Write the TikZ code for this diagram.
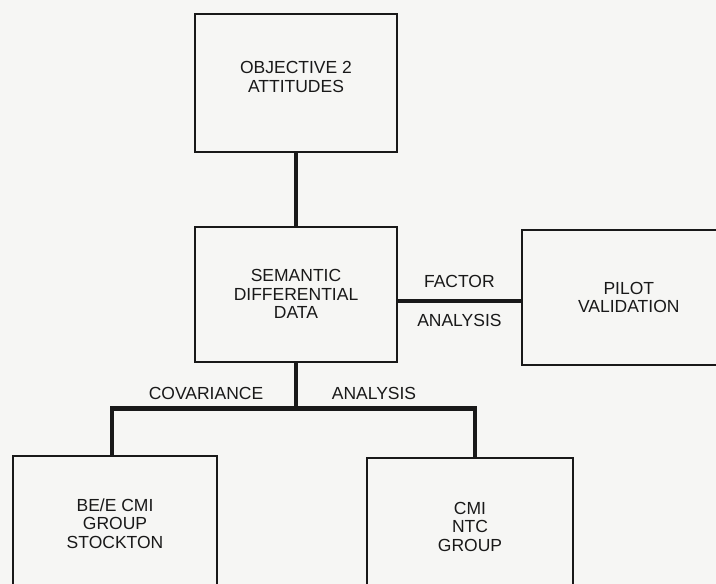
\documentclass[tikz,border=0pt]{standalone}
\usepackage{fontspec}
\setmainfont{Liberation Sans}
\usetikzlibrary{positioning}
\definecolor{paper}{RGB}{246,246,244}
\definecolor{ink}{RGB}{25,25,25}

\begin{document}
\begin{tikzpicture}[x=1pt,y=1pt,
    box/.style={draw=ink,line width=1.8pt,fill=paper,text=ink,minimum width=202pt,minimum height=136pt,align=center,inner sep=0pt,font=\fontsize{17.5}{18.5}\selectfont},
    link/.style={draw=ink,line width=4.5pt},
    lbl/.style={text=ink,inner sep=0pt,font=\fontsize{17.5}{18.5}\selectfont}]
  \fill[paper] (0,0) rectangle (716,-584);
  \useasboundingbox (0,0) rectangle (716,-584);
  \clip (0,0) rectangle (716,-584);
  % boxes
  \node[box,minimum height=138pt,text depth=12pt] (obj) at (296,-83) {OBJECTIVE 2\\ATTITUDES};
  \node[box,minimum height=135pt,below=73pt of obj] (sem) {SEMANTIC\\DIFFERENTIAL\\DATA};
  \node[box,minimum width=214pt,minimum height=135pt,right=123pt of sem,yshift=-3pt] (pilot) {PILOT\\VALIDATION};
  \coordinate[below=46pt of sem] (split);
  \node[box,minimum width=204pt,below=92pt of sem,xshift=-181pt] (stockton) {BE/E CMI\\GROUP\\STOCKTON};
  \node[box,minimum width=206pt,minimum height=138pt,below=94pt of sem,xshift=174pt] (ntc) {CMI\\NTC\\GROUP};
  % connectors
  \draw[link] (obj) -- (sem);
  \draw[link] ([yshift=-6.5pt]sem.east) -- ([yshift=-6.5pt]sem.east -| pilot.west)
    node[lbl,midway,above=11pt] {FACTOR}
    node[lbl,midway,below=11pt] {ANALYSIS};
  \draw[link] (sem) -- (split);
  \draw[link] ([xshift=-3pt]stockton.north) |- (split) -| ([xshift=5pt]ntc.north);
  \node[lbl] at ([shift={(-90,15)}]split) {COVARIANCE};
  \node[lbl] at ([shift={(78,15)}]split) {ANALYSIS};
\end{tikzpicture}
\end{document}
